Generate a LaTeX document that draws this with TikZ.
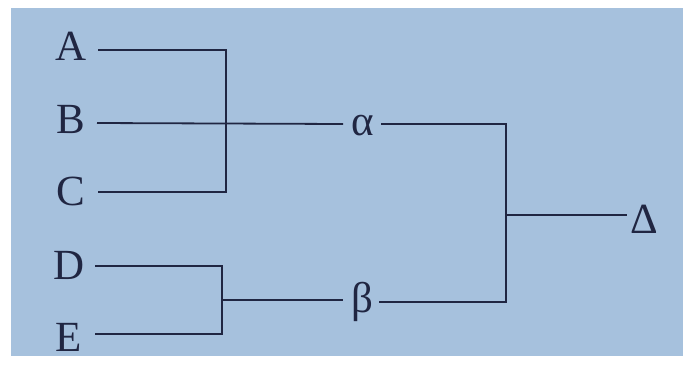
\documentclass[tikz,border=0pt]{standalone}
\usepackage{fontspec}
\setmainfont{Liberation Serif}
\definecolor{paper}{RGB}{166,193,221}
\definecolor{ink}{RGB}{32,38,66}
\begin{document}
\begin{tikzpicture}[x=1pt,y=-1pt,
  lbl/.style={inner sep=0pt, anchor=base, font=\fontsize{43}{46}\selectfont, text=ink},
  wire/.style={draw=ink, line width=1.8pt, line join=miter}]
\useasboundingbox (0,0) rectangle (691,365);
\fill[paper] (11,8) rectangle (683,356);
% labels
\node[lbl] (A) at (71,60) {A};
\node[lbl] (B) at (71,133) {B};
\node[lbl] (C) at (71,205) {C};
\node[lbl] (D) at (69,279) {D};
\node[lbl] (E) at (69,351) {E};
\node[lbl] (alpha) at (363,135) {α};
\node[lbl] (beta) at (362,312) {β};
\node[lbl] (Delta) at (644,233) {Δ};
% line ends
\coordinate (a0) at (98,50);
\coordinate (b0) at (97,123);
\coordinate (c0) at (98,192);
\coordinate (d0) at (95,266);
\coordinate (e0) at (95,334);
\coordinate (abc) at (226,50);
\coordinate (abcb) at (226,192);
\coordinate (b1) at (343,124);
\coordinate (de) at (222,266);
\coordinate (deb) at (222,334);
\coordinate (dem) at (222,300);
\coordinate (be0) at (343,300);
\coordinate (al0) at (381,124);
\coordinate (j) at (506,124);
\coordinate (jb) at (506,302);
\coordinate (bt0) at (379,302);
\coordinate (jm) at (506,215);
\coordinate (dl0) at (627,215);
% connectors
\draw[wire] (a0) -- (abc) -- (abcb) -- (c0);
\draw[wire] (b0) -- (b1);
\draw[wire] (d0) -- (de) -- (deb) -- (e0);
\draw[wire] (dem) -- (be0);
\draw[wire] (al0) -- (j) -- (jb) -- (bt0);
\draw[wire] (jm) -- (dl0);
\end{tikzpicture}
\end{document}
